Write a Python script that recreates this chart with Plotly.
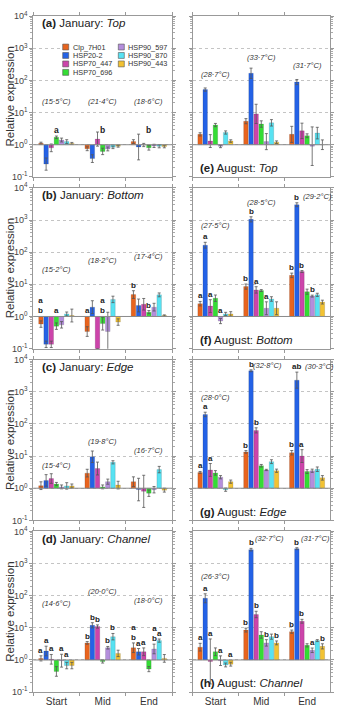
import math
import plotly.graph_objects as go

genes = ["Clp_7H01", "HSP20-2", "HSP70_447", "HSP70_696", "HSP90_597", "HSP90_870", "HSP90_443"]
colors = ["#E8641E", "#2462E6", "#CC44AA", "#34DD34", "#B48EDC", "#58E2F2", "#F2C232"]
sites = ["Start", "Mid", "End"]

# relative expression per site (Start, Mid, End), genes in order above
jan_top_val = [[1.12, 0.25, 0.8, 1.7, 1.4, 1.25, 1.1],
               [0.75, 0.37, 1.5, 0.62, 0.74, 0.83, 0.9],
               [1.25, 0.85, 0.98, 0.8, 0.92, 0.9, 0.88]]
jan_top_err = [[0.03, 0.19, 0.12, 0.04, 0.06, 0.06, 0.03],
               [0.06, 0.12, 0.22, 0.1, 0.06, 0.04, 0.03],
               [0.06, 0.4, 0.05, 0.07, 0.05, 0.05, 0.04]]
aug_top_val = [[2.1, 52, 1.3, 4.1, 0.89, 2.4, 1.3],
               [5.4, 167, 9.1, 4.4, 1.25, 4.8, 1.2],
               [2.1, 89, 2.7, 1.9, 0.9, 2.3, 1.0]]
aug_top_err = [[0.05, 0.05, 0.2, 0.05, 0.04, 0.05, 0.04],
               [0.08, 0.16, 0.3, 0.1, 0.25, 0.1, 0.04],
               [0.25, 0.08, 0.24, 0.06, 0.6, 0.18, 0.15]]
jan_bottom_val = [[0.58, 0.136, 0.136, 0.5, 0.55, 1.2, 1.07],
                  [0.34, 1.95, 0.08, 0.6, 0.34, 3.4, 0.67],
                  [4.8, 2.2, 2.4, 1.36, 1.95, 4.7, 1.07]]
jan_bottom_err = [[0.1, 0.1, 0.1, 0.1, 0.1, 0.06, 0.2],
                  [0.15, 0.2, 0.1, 0.2, 0.6, 0.1, 0.1],
                  [0.12, 0.2, 0.18, 0.05, 0.12, 0.06, 0.02]]
aug_bottom_val = [[2.5, 165, 2.1, 3.7, 0.72, 1.2, 1.2],
                  [8.5, 1050, 6.7, 6.4, 1.8, 3.5, 1.8],
                  [19, 3000, 25, 5.9, 4.3, 4.7, 2.8]]
aug_bottom_err = [[0.07, 0.09, 0.2, 0.1, 0.08, 0.05, 0.07],
                  [0.08, 0.08, 0.1, 0.03, 0.2, 0.07, 0.2],
                  [0.07, 0.06, 0.03, 0.08, 0.03, 0.05, 0.06]]
jan_edge_val = [[1.2, 1.75, 2.0, 1.35, 1.1, 1.18, 1.18],
                [2.95, 9.5, 4.1, 1.1, 1.6, 6.4, 1.25],
                [1.6, 0.91, 0.8, 0.7, 0.9, 3.8, 0.87]]
jan_edge_err = [[0.12, 0.18, 0.15, 0.05, 0.06, 0.1, 0.06],
                [0.12, 0.18, 0.2, 0.06, 0.08, 0.05, 0.12],
                [0.15, 0.35, 0.5, 0.1, 0.1, 0.1, 0.06]]
aug_edge_val = [[3.1, 197, 3.7, 3.0, 2.2, 0.9, 1.6],
                [13.5, 4500, 63, 5, 3.7, 6.7, 3.5],
                [12.7, 2300, 10, 3.3, 3.5, 3.9, 2.1]]
aug_edge_err = [[0.03, 0.07, 0.2, 0.07, 0.05, 0.05, 0.05],
                [0.04, 0.03, 0.08, 0.04, 0.02, 0.06, 0.05],
                [0.07, 0.25, 0.2, 0.06, 0.05, 0.07, 0.07]]
jan_channel_val = [[1.12, 1.9, 1.05, 0.44, 0.95, 0.67, 0.67],
                   [3.4, 12, 11, 0.9, 2.4, 5.3, 1.6],
                   [2.4, 1.8, 1.8, 0.52, 2.2, 4.0, 1.12]]
jan_channel_err = [[0.08, 0.15, 0.15, 0.15, 0.2, 0.1, 0.1],
                   [0.04, 0.08, 0.05, 0.05, 0.04, 0.1, 0.1],
                   [0.15, 0.1, 0.12, 0.08, 0.15, 0.05, 0.12]]
aug_channel_val = [[2.5, 83, 0.9, 1.8, 0.95, 0.7, 0.74],
                   [8.5, 2700, 26, 6, 3.4, 5.3, 3.4],
                   [7.6, 2900, 16, 2.85, 2.0, 4.0, 2.65]]
aug_channel_err = [[0.12, 0.14, 0.7, 0.12, 0.15, 0.06, 0.06],
                   [0.06, 0.04, 0.1, 0.1, 0.1, 0.08, 0.06],
                   [0.05, 0.03, 0.06, 0.05, 0.07, 0.03, 0.08]]

# water temperatures
jan_top_temp = ["(15·5°C)", "(21·4°C)", "(18·6°C)"]
aug_top_temp = ["(28·7°C)", "(33·7°C)", "(31·7°C)"]
jan_bottom_temp = ["(15·2°C)", "(18·2°C)", "(17·4°C)"]
aug_bottom_temp = ["(27·5°C)", "(28·5°C)", "(29·2°C)"]
jan_edge_temp = ["(15·4°C)", "(19·8°C)", "(16·7°C)"]
aug_edge_temp = ["(28·0°C)", "(32·8°C)", "(30·3°C)"]
jan_channel_temp = ["(14·6°C)", "(20·0°C)", "(18·0°C)"]
aug_channel_temp = ["(26·3°C)", "(32·7°C)", "(31·7°C)"]

# significance letters: (site index, gene index, letters; "/" stacks)
jan_top_group_letters = ["a", "b", "b"]
jan_bottom_letters = [(0, 0, "a/b"), (0, 3, "a"), (1, 0, "a"), (1, 3, "a/b"), (2, 0, "b"), (2, 3, "b")]
aug_bottom_letters = [(0, 0, "a"), (0, 1, "a"), (0, 2, "a"), (0, 4, "a"),
                      (1, 0, "b"), (1, 1, "b"), (1, 2, "a"), (1, 4, "a"),
                      (2, 0, "b"), (2, 1, "b"), (2, 2, "b"), (2, 4, "b")]
aug_edge_letters = [(0, 0, "a"), (0, 1, "a"), (0, 2, "a"),
                    (1, 0, "b"), (1, 1, "b"), (1, 2, "b"),
                    (2, 0, "b"), (2, 1, "ab"), (2, 2, "a")]
jan_channel_letters = [(0, 0, "a"), (0, 1, "a"), (0, 2, "a"), (0, 4, "a"), (0, 5, "a"),
                       (1, 0, "b"), (1, 1, "b"), (1, 2, "b"), (1, 4, "b"), (1, 5, "b"),
                       (2, 0, "a/b"), (2, 1, "a"), (2, 2, "a"), (2, 4, "a/b"), (2, 5, "a")]
aug_channel_letters = [(0, 0, "a"), (0, 1, "a"), (0, 2, "a"), (0, 4, "a"), (0, 6, "a"),
                       (1, 0, "b"), (1, 1, "b"), (1, 2, "b"), (1, 4, "b"), (1, 6, "b"),
                       (2, 0, "b"), (2, 1, "b"), (2, 2, "b"), (2, 4, "a"), (2, 6, "b")]

# ---------------- layout / style ----------------
W, H = 337, 710
FONT = "Liberation Sans, Arial, sans-serif"
BARGAP = 0.22
col_px = [(33.3, 172.0), (192.5, 330.0)]
row_top = [9.3 + 174.7 * i for i in range(4)]
PANEL_H = 163.5

panels = [
    ("a", 0, 0, "January:", "Top", jan_top_val, jan_top_err, jan_top_temp, [1.34, 1.34, 1.34], [0, 0, 0], []),
    ("e", 0, 1, "August:", "Top", aug_top_val, aug_top_err, aug_top_temp, [2.19, 2.7, 2.47], [0, 0, 0], []),
    ("b", 1, 0, "January:", "Bottom", jan_bottom_val, jan_bottom_err, jan_bottom_temp, [1.47, 1.73, 1.87], [0, 0, 0], jan_bottom_letters),
    ("f", 1, 1, "August:", "Bottom", aug_bottom_val, aug_bottom_err, aug_bottom_temp, [2.82, 3.54, 3.74], [0, 0, 10], aug_bottom_letters),
    ("c", 2, 0, "January:", "Edge", jan_edge_val, jan_edge_err, jan_edge_temp, [0.71, 1.45, 1.16], [0, 0, 0], []),
    ("g", 2, 1, "August:", "Edge", aug_edge_val, aug_edge_err, aug_edge_temp, [2.83, 3.82, 3.78], [0, 6, 12], aug_edge_letters),
    ("d", 3, 0, "January:", "Channel", jan_channel_val, jan_channel_err, jan_channel_temp, [1.75, 2.12, 1.84], [0, 0, 0], jan_channel_letters),
    ("h", 3, 1, "August:", "Channel", aug_channel_val, aug_channel_err, aug_channel_temp, [2.6, 3.79, 3.79], [0, 8, 8], aug_channel_letters),
]

fig = go.Figure()
annotations = []
shapes = []
layout = {}

major = [0.1, 1, 10, 100, 1000, 10000]
major_txt = ["10<sup>-1</sup>", "10<sup>0</sup>", "10<sup>1</sup>", "10<sup>2</sup>", "10<sup>3</sup>", "10<sup>4</sup>"]
minor_vals = [k * 10 ** n for n in range(-1, 4) for k in range(2, 10)]

for k, (lab, row, col, month, site, vals, errs, temps, temp_y, temp_dx, letters) in enumerate(panels, start=1):
    sfx = "" if k == 1 else str(k)
    xa, ya = "x" + sfx, "y" + sfx
    xname, yname = "xaxis" + sfx, "yaxis" + sfx
    x0, x1 = col_px[col]
    top = row_top[row]
    bot = top + PANEL_H
    layout[xname] = dict(
        domain=[x0 / W, x1 / W], anchor=ya, type="category", categoryorder="array", categoryarray=sites,
        range=[-0.5, 2.5], tickson="boundaries", ticks="outside", ticklen=3, tickcolor="#999",
        showline=True, linecolor="#999", linewidth=1, mirror="allticks", showgrid=False,
        showticklabels=(row == 3), tickfont=dict(family=FONT, size=10, color="#333"), fixedrange=True,
    )
    layout[yname] = dict(
        domain=[1 - bot / H, 1 - top / H], anchor=xa, type="log", range=[-1, 4],
        tickmode="array", tickvals=major, ticktext=major_txt, ticks="outside", ticklen=3, tickcolor="#999",
        showticklabels=(col == 0), tickfont=dict(family=FONT, size=9, color="#444"),
        showline=True, linecolor="#999", linewidth=1, mirror="allticks",
        showgrid=True, gridcolor="#c4c4c4", gridwidth=0.8, griddash="dot",
        minor=dict(tickmode="array", tickvals=minor_vals, ticks="outside", ticklen=2, tickcolor="#aaa", showgrid=False),
        fixedrange=True,
    )
    for gi, g in enumerate(genes):
        v = [vals[s][gi] for s in range(3)]
        e = [errs[s][gi] for s in range(3)]
        fig.add_trace(go.Bar(
            x=sites, y=[vv - 1 for vv in v], base=[1, 1, 1], name=g, showlegend=False,
            marker=dict(color=colors[gi], line=dict(color="rgba(0,0,0,0.25)", width=0.5)),
            error_y=dict(type="data", symmetric=False,
                         array=[vv * (10 ** ee - 1) for vv, ee in zip(v, e)],
                         arrayminus=[vv * (1 - 10 ** (-ee)) for vv, ee in zip(v, e)],
                         color="#555", thickness=0.8, width=1.5),
            xaxis=xa, yaxis=ya,
        ))
    shapes.append(dict(type="line", xref=f"{xa} domain", yref=ya, x0=0, x1=1, y0=1, y1=1,
                       line=dict(color="#8a8a8a", width=1)))
    if col == 0:
        tx, ty = (40 - x0) / (x1 - x0), 0.955
    else:
        tx, ty = (198 - x0) / (x1 - x0), 0.054
    annotations.append(dict(xref=f"{xa} domain", yref=f"{ya} domain", x=tx, y=ty, xanchor="left", yanchor="middle",
                            text=f"<b>({lab})</b> {month} <i>{site}</i>", showarrow=False,
                            font=dict(family=FONT, size=11.5, color="#222")))
    for s in range(3):
        annotations.append(dict(xref=xa, yref=ya, x=sites[s], y=temp_y[s], xshift=temp_dx[s], text=f"<i>{temps[s]}</i>",
                                showarrow=False, yanchor="middle", font=dict(family=FONT, size=7.5, color="#333")))
    gpx = (x1 - x0) / 3
    spacing = gpx * (1 - BARGAP) / 7
    for (s, gi, txt) in letters:
        v = vals[s][gi]
        topv = max(v * 10 ** errs[s][gi], 1.0)
        label = "<br>".join(f"<b>{p}</b>" for p in txt.split("/"))
        annotations.append(dict(xref=xa, yref=ya, x=sites[s], y=math.log10(topv), xshift=(gi - 3) * spacing,
                                yshift=0, yanchor="bottom", text=label, showarrow=False, borderpad=0,
                                font=dict(family=FONT, size=8, color="#222")))
    if lab == "a":
        for s in range(3):
            annotations.append(dict(xref=xa, yref=ya, x=sites[s], y=0.46, text=f"<b>{jan_top_group_letters[s]}</b>",
                                    showarrow=False, yanchor="middle", font=dict(family=FONT, size=8.5, color="#222")))
    if col == 0:
        annotations.append(dict(xref="paper", yref="paper", x=10 / W, y=1 - (top + bot) / 2 / H, textangle=-90,
                                text="Relative expression", showarrow=False, xanchor="center", yanchor="middle",
                                font=dict(family=FONT, size=11.5, color="#333")))

# manual legend in panel (a)
shapes.append(dict(type="rect", xref="paper", yref="paper", x0=60 / W, x1=171 / W, y0=1 - 72 / H, y1=1 - 35 / H,
                   fillcolor="white", line=dict(width=0), layer="above"))
leg_pos = [(62.7, 40.7), (62.7, 49.3), (62.7, 57.9), (62.7, 66.5), (118.3, 40.7), (118.3, 49.3), (118.3, 57.9)]
for gi, g in enumerate(genes):
    lx, ly = leg_pos[gi]
    shapes.append(dict(type="rect", xref="paper", yref="paper", x0=lx / W, x1=(lx + 6) / W,
                       y0=1 - (ly + 3) / H, y1=1 - (ly - 3) / H, fillcolor=colors[gi],
                       line=dict(color="#555", width=0.6), layer="above"))
    annotations.append(dict(xref="paper", yref="paper", x=(lx + 9) / W, y=1 - ly / H, xanchor="left", yanchor="middle",
                            text=g, showarrow=False, borderpad=0, font=dict(family=FONT, size=7.3, color="#333")))

fig.update_layout(**layout)
fig.update_layout(
    width=W, height=H, margin=dict(l=0, r=0, t=0, b=0), autosize=False,
    barmode="group", bargap=BARGAP, bargroupgap=0.12,
    plot_bgcolor="white", paper_bgcolor="white",
    annotations=annotations, shapes=shapes, showlegend=False,
    font=dict(family=FONT),
)
fig.write_html("out.html", config={"displayModeBar": False})
